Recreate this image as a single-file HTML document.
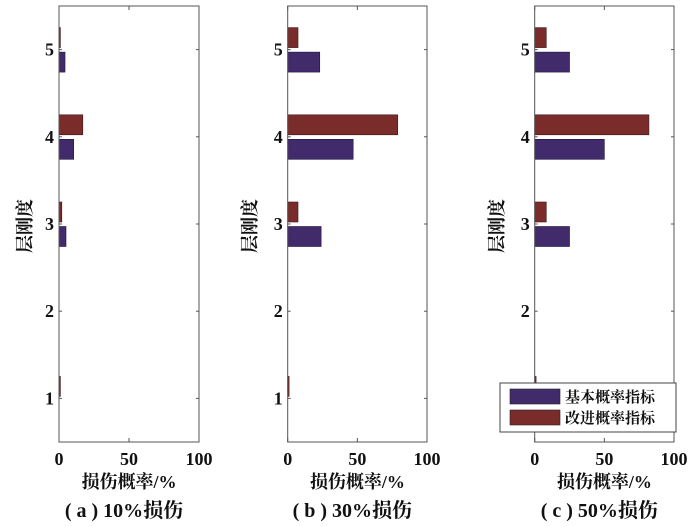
<!DOCTYPE html>
<html><head><meta charset="utf-8"><style>
body{margin:0;background:#fff;width:700px;height:522px;overflow:hidden}
svg text{font-family:"Liberation Serif","Noto Serif CJK SC",serif;fill:#111;font-weight:bold}
</style></head><body>
<svg id="chart" width="700" height="522" xmlns="http://www.w3.org/2000/svg"></svg>
<script>
const categories=[1,2,3,4,5];
const xTicks=[0,50,100];
const basicA=[0,0,5,10.5,4.3];
const improvedA=[1,0,2,17,1];
const basicB=[0,0,24,47,23];
const improvedB=[1,0,7.4,79,7.4];
const basicC=[0,0,25,50,25];
const improvedC=[1,0,8.3,82,8.3];
const captions=["( a ) 10%损伤","( b ) 30%损伤","( c ) 50%损伤"];
const legendLabels=["基本概率指标","改进概率指标"];
const NS="http://www.w3.org/2000/svg";
const svg=document.getElementById('chart');
function mk(t,a,p){const e=document.createElementNS(NS,t);for(const k in a)e.setAttribute(k,a[k]);(p||svg).appendChild(e);return e;}
const panels=[{x0:59,x1:199,b:basicA,r:improvedA,yl:25},{x0:287.7,x1:427,b:basicB,r:improvedB,yl:250},{x0:534.7,x1:674,b:basicC,r:improvedC,yl:497}];
const topY=6,botY=442;
function yS(v){return botY-(v-0.5)/5*(botY-topY);}
panels.forEach((p,i)=>{
  const g=mk('g',{});
  
  
  const xS=v=>p.x0+v/100*(p.x1-p.x0);
  categories.forEach((c,j)=>{
    const yc=yS(c);
    if(p.r[j]>0){const r=mk('rect',{x:p.x0,y:yc-22,width:xS(p.r[j])-p.x0,height:20,fill:'#7a2c2a',stroke:'#3a1a1a','stroke-width':0.6},g);
      
      }
    if(p.b[j]>0){const r=mk('rect',{x:p.x0,y:yc+2.5,width:xS(p.b[j])-p.x0,height:20,fill:'#422b6a',stroke:'#1e1640','stroke-width':0.6},g);
      
      }
    mk('line',{x1:p.x0,x2:p.x0+3,y1:yc,y2:yc,stroke:'#555'},g);
    mk('line',{x1:p.x1,x2:p.x1-3,y1:yc,y2:yc,stroke:'#555'},g);
    const t=mk('text',{x:p.x0-5,y:yc+6,'text-anchor':'end','font-size':18},g);t.textContent=c;
    
    
  });
  xTicks.forEach(v=>{
    const x=xS(v);
    mk('line',{x1:x,x2:x,y1:botY,y2:botY-4,stroke:'#555'},g);
    mk('line',{x1:x,x2:x,y1:topY,y2:topY+4,stroke:'#555'},g);
    const t=mk('text',{x:x,y:465,'text-anchor':'middle','font-size':18},g);t.textContent=v;
    
    
  });
  mk('rect',{x:p.x0,y:topY,width:p.x1-p.x0,height:botY-topY,fill:'none',stroke:'#555','stroke-width':1},g);
  const xl=mk('text',{x:(p.x0+p.x1)/2,y:488,'text-anchor':'middle','font-size':18},g);xl.textContent='损伤概率/%';
  
  
  const yl=mk('text',{x:p.yl,y:226,'text-anchor':'middle','font-size':18,transform:`rotate(-90 ${p.yl} 226)`,dy:6},g);yl.textContent='层刚度';
  
  
  const cp=mk('text',{x:(p.x0+p.x1)/2-5,y:517,'text-anchor':'middle','font-size':20},g);cp.textContent=captions[i];
  
  
});
const lg=mk('g',{});


mk('rect',{x:500,y:383,width:176,height:49,fill:'#fff',stroke:'#444'},lg);
['#422b6a','#7a2c2a'].forEach((col,i)=>{
  mk('rect',{x:510,y:389+i*21,width:50,height:15,fill:col,stroke:'#222','stroke-width':0.6},lg);
  const t=mk('text',{x:565,y:402+i*21,'font-size':15},lg);t.textContent=legendLabels[i];
  
  
});
</script>
</body></html>
